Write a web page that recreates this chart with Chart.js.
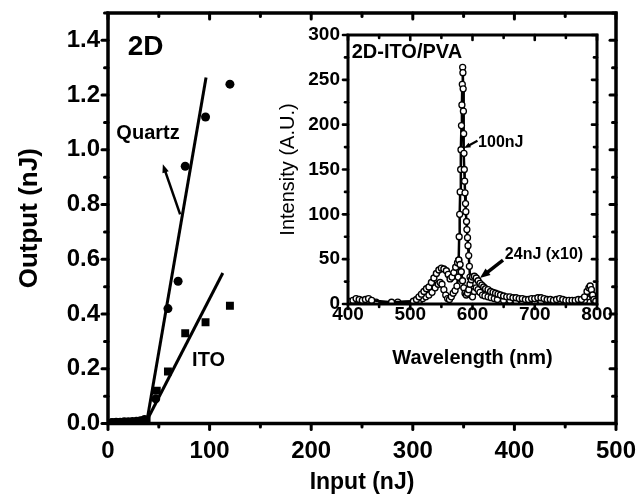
<!DOCTYPE html>
<html>
<head>
<meta charset="utf-8">
<script src="https://cdn.jsdelivr.net/npm/chart.js@4.4.1/dist/chart.umd.min.js"></script>
<style>
  html, body { margin: 0; padding: 0; background: #fff; }
  #wrap { position: relative; width: 639px; height: 496px; overflow: hidden; }
  #main { position: absolute; left: 0; top: 0; }
  #inset { position: absolute; left: 262px; top: 22px; }
</style>
</head>
<body>
<div id="wrap">
  <canvas id="main" width="639" height="496"></canvas>
  <canvas id="inset" width="356" height="350"></canvas>
</div>
<script>
// ---- main plot: output vs input (nJ) ----
const quartzIn  = [4, 8, 12, 16, 20, 24, 28, 32, 36, 47, 59, 69, 76, 96, 120];
const quartzOut = [0.004, 0.005, 0.005, 0.006, 0.006, 0.007, 0.008, 0.010, 0.015, 0.09, 0.42, 0.52, 0.94, 1.12, 1.24];
const itoIn  = [6, 10, 14, 18, 22, 26, 30, 34, 38, 48, 59, 76, 96, 120];
const itoOut = [0.004, 0.004, 0.005, 0.005, 0.006, 0.006, 0.007, 0.008, 0.012, 0.12, 0.19, 0.33, 0.37, 0.43];

// linear fits above threshold
const quartzFitIn  = [38.5, 96.5];
const quartzFitOut = [0.013, 1.264];
const itoFitIn  = [38.5, 113];
const itoFitOut = [0.013, 0.55];

// ---- inset: emission spectra ----
const wl100 = [400, 410, 420, 430, 445, 480, 510,
  515, 520, 525, 530, 535, 540, 545,
  548, 551, 554, 557, 560, 563, 566, 569, 572, 575, 577,
  577.8, 578.6, 579.4, 580.2, 581, 581.5, 582.3, 583, 583.6, 584.2,
  584.6, 585, 585.4, 585.8, 586.3, 586.8, 587.4, 588, 588.8, 589.3,
  590.4, 591, 592, 592.8, 593.9, 595, 596, 597, 598,
  600, 603, 606, 609, 612, 616, 620, 625, 630, 635, 640,
  650, 660, 670, 680, 690, 700, 710, 720, 730, 740, 750, 760, 770, 780,
  785, 788, 790, 792, 795, 798];
const int100 = [2, 3, 4, 3, 2, 2, 3,
  4, 6, 8, 10, 13, 18, 22,
  24, 22, 16, 10, 6, 5, 8, 12, 15, 20, 30,
  49, 75, 100, 125, 150, 172, 199, 222, 245, 264,
  258, 240, 215, 190, 168, 150, 137, 124, 112, 103,
  92, 83, 74, 65, 54, 42, 30, 18, 10,
  8, 14, 18, 16, 13, 10, 9, 8, 7, 6, 5,
  4, 4, 3, 3, 3, 3, 3, 3, 3, 3, 3, 3, 3, 4,
  8, 12, 14, 10, 4, 2];

const wl24 = [400, 408, 413, 418, 423, 428, 433, 438, 470, 505,
  510, 514, 518, 522, 526, 530, 534, 538, 542, 546, 550, 554, 558,
  561, 564, 567, 570, 573, 576, 578, 580, 582, 584, 586, 588, 590, 592, 594, 596, 598, 600,
  603, 606, 609, 612, 615, 618, 621,
  625, 629, 633, 637, 641, 645,
  650, 655, 660, 665, 670, 675, 680, 685, 690, 695, 700, 705, 710, 715, 720, 725, 730, 735, 740, 745, 750, 755, 760, 765, 770, 775, 780,
  784, 787, 789, 791, 793, 795, 798];
const int24 = [3, 4, 6, 5, 4, 5, 6, 4, 2, 3,
  5, 8, 11, 14, 17, 19, 24, 29, 34, 38, 40, 39, 37,
  33, 28, 30, 35, 41, 46, 49, 44, 36, 26, 18, 12, 10, 12, 16, 22, 27, 30,
  31, 29, 26, 23, 21, 19, 17,
  16, 14, 13, 12, 11, 10,
  9, 8, 8, 7, 7, 6, 6, 5, 5, 6, 6, 7, 7, 6, 5, 5, 4, 5, 6, 5, 4, 4, 4, 4, 5, 5, 8,
  14, 18, 20, 16, 10, 5, 3];

// annotations (data coordinates)
const mainText  = ['2D', 'Quartz', 'ITO'];
const mainTextX = [37, 39.4, 99];
const mainTextY = [1.374, 1.061, 0.232];
const mainArrowFrom = [71, 0.764];
const mainArrowTo   = [54, 0.947];

const insetText  = ['2D-ITO/PVA', '100nJ', '24nJ (x10)'];
const insetTextX = [406, 609, 652];
const insetTextY = [280, 180, 55];
const insetArrowFrom = [[608, 182], [649, 49]];
const insetArrowTo   = [[586.4, 174], [612, 29]];

const FONT = '"Liberation Sans", Arial, Helvetica, sans-serif';
Chart.defaults.font.family = FONT;
Chart.defaults.color = '#000';

const pts = (xs, ys) => xs.map((x, i) => ({ x: x, y: ys[i] }));

function line(ctx, x1, y1, x2, y2) {
  ctx.beginPath(); ctx.moveTo(x1, y1); ctx.lineTo(x2, y2); ctx.stroke();
}

function arrow(ctx, x1, y1, x2, y2, w, head) {
  const a = Math.atan2(y2 - y1, x2 - x1);
  ctx.save();
  ctx.strokeStyle = '#000'; ctx.fillStyle = '#000'; ctx.lineWidth = w;
  line(ctx, x1, y1, x2 - Math.cos(a) * head * 0.7, y2 - Math.sin(a) * head * 0.7);
  ctx.beginPath();
  ctx.moveTo(x2, y2);
  ctx.lineTo(x2 - head * Math.cos(a - 0.38), y2 - head * Math.sin(a - 0.38));
  ctx.lineTo(x2 - head * Math.cos(a + 0.38), y2 - head * Math.sin(a + 0.38));
  ctx.closePath(); ctx.fill();
  ctx.restore();
}

const isMajor = (v, step) => Math.abs(v / step - Math.round(v / step)) < 1e-6;

// box frame with ticks out on bottom/left and in on top/right
function drawFrame(chart, f) {
  const { ctx, chartArea: a, scales: { x, y } } = chart;
  ctx.save();
  ctx.strokeStyle = '#000';
  ctx.lineCap = 'round';
  ctx.lineWidth = f.tickWidth;
  x.ticks.forEach(t => {
    const px = x.getPixelForValue(t.value);
    const len = isMajor(t.value, f.xMajor) ? f.major : f.minor;
    line(ctx, px, a.bottom, px, a.bottom + len);
    line(ctx, px, a.top, px, a.top + len);
  });
  y.ticks.forEach(t => {
    const py = y.getPixelForValue(t.value);
    const len = isMajor(t.value, f.yMajor) ? f.major : f.minor;
    line(ctx, a.left, py, a.left - len, py);
    line(ctx, a.right, py, a.right - len, py);
  });
  ctx.lineCap = 'square';
  ctx.lineWidth = f.frameWidth;
  ctx.strokeRect(a.left, a.top, a.right - a.left, a.bottom - a.top);
  ctx.restore();
}

function drawTexts(chart, texts, xs, ys, fonts, align) {
  const { ctx, scales: { x, y } } = chart;
  ctx.save();
  ctx.fillStyle = '#000';
  ctx.textBaseline = 'middle';
  texts.forEach((s, i) => {
    ctx.font = fonts[i];
    ctx.textAlign = align[i];
    ctx.fillText(s, x.getPixelForValue(xs[i]), y.getPixelForValue(ys[i]));
  });
  ctx.restore();
}

function fixSize(w, h) {
  return (scale) => {
    if (w !== null) scale.width = w;
    if (h !== null) scale.height = h;
    scale.paddingTop = 0; scale.paddingBottom = 0;
    scale.paddingLeft = 0; scale.paddingRight = 0;
  };
}

// ---------- main chart ----------
new Chart(document.getElementById('main'), {
  type: 'scatter',
  data: {
    datasets: [
      { label: 'Quartz fit', data: pts(quartzFitIn, quartzFitOut), showLine: true,
        borderColor: '#000', borderWidth: 3, pointRadius: 0 },
      { label: 'ITO fit', data: pts(itoFitIn, itoFitOut), showLine: true,
        borderColor: '#000', borderWidth: 3, pointRadius: 0 },
      { label: 'Quartz', data: pts(quartzIn, quartzOut), pointStyle: 'circle',
        pointRadius: 4.5, backgroundColor: '#000', borderColor: '#000', borderWidth: 0 },
      { label: 'ITO', data: pts(itoIn, itoOut), pointStyle: 'rect',
        pointRadius: 5.6, backgroundColor: '#000', borderColor: '#000', borderWidth: 0 }
    ]
  },
  options: {
    responsive: false,
    devicePixelRatio: 1,
    animation: false,
    layout: { padding: { left: 0, right: 23, top: 13, bottom: 0 } },
    plugins: { legend: { display: false }, tooltip: { enabled: false } },
    scales: {
      x: {
        type: 'linear', min: 0, max: 500,
        border: { display: false },
        grid: { display: false, drawTicks: true, tickLength: 6 },
        ticks: {
          stepSize: 50, autoSkip: false, maxRotation: 0, padding: 7.5,
          font: { size: 24, weight: 'bold' },
          callback: (v) => (isMajor(v, 100) ? String(v) : '')
        },
        title: { display: true, text: 'Input (nJ)', font: { size: 23, weight: 'bold' },
          padding: { top: 0, bottom: 0 } },
        afterFit: fixSize(null, 72.5)
      },
      y: {
        type: 'linear', min: 0, max: 1.5,
        border: { display: false },
        grid: { display: false, drawTicks: true, tickLength: 6 },
        ticks: {
          stepSize: 0.1, autoSkip: false, padding: 2,
          font: { size: 24, weight: 'bold' },
          callback: (v) => (isMajor(v, 0.2) ? v.toFixed(1) : '')
        },
        title: { display: true, text: 'Output (nJ)', font: { size: 26, weight: 'bold' },
          padding: { top: 14, bottom: 0 } },
        afterFit: fixSize(108, null)
      }
    }
  },
  plugins: [{
    id: 'mainDecor',
    afterDraw(chart) {
      drawFrame(chart, { tickWidth: 3, frameWidth: 3.5, major: 6, minor: 3.5, xMajor: 100, yMajor: 0.2 });
      const { ctx, scales: { x, y } } = chart;
      arrow(ctx, x.getPixelForValue(mainArrowFrom[0]), y.getPixelForValue(mainArrowFrom[1]),
        x.getPixelForValue(mainArrowTo[0]), y.getPixelForValue(mainArrowTo[1]), 2.5, 9);
      drawTexts(chart, mainText, mainTextX, mainTextY,
        ['bold 28px ' + FONT, 'bold 20px ' + FONT, 'bold 20px ' + FONT],
        ['center', 'center', 'center']);
    }
  }]
});

// ---------- inset chart ----------
new Chart(document.getElementById('inset'), {
  type: 'scatter',
  data: {
    datasets: [
      { label: '24nJ (x10)', data: pts(wl24, int24), showLine: true,
        borderColor: '#000', borderWidth: 2.4, pointRadius: 3,
        pointBackgroundColor: '#fff', pointBorderColor: '#000', pointBorderWidth: 1.4 },
      { label: '100nJ', data: pts(wl100, int100), showLine: true,
        borderColor: '#000', borderWidth: 2.5, pointRadius: 3,
        pointBackgroundColor: '#fff', pointBorderColor: '#000', pointBorderWidth: 1.3 }
    ]
  },
  options: {
    responsive: false,
    devicePixelRatio: 1,
    animation: false,
    layout: { padding: { left: 0, right: 21, top: 13, bottom: 0 } },
    plugins: { legend: { display: false }, tooltip: { enabled: false } },
    scales: {
      x: {
        type: 'linear', min: 400, max: 800,
        border: { display: false },
        grid: { display: false, drawTicks: true, tickLength: 5 },
        ticks: {
          stepSize: 50, autoSkip: false, maxRotation: 0, padding: -6,
          font: { size: 19, weight: 'bold' },
          callback: (v) => (isMajor(v, 100) ? String(v) : '')
        },
        title: { display: true, text: 'Wavelength (nm)', font: { size: 20, weight: 'bold' },
          padding: { top: 0, bottom: 2 } },
        afterFit: fixSize(null, 68)
      },
      y: {
        type: 'linear', min: 0, max: 300,
        border: { display: false },
        grid: { display: false, drawTicks: true, tickLength: 5 },
        ticks: {
          stepSize: 25, autoSkip: false, padding: 3,
          font: { size: 19, weight: 'bold' },
          callback: (v) => (isMajor(v, 50) ? String(v) : '')
        },
        title: { display: true, text: 'Intensity (A.U.)', font: { size: 20, weight: 'normal' },
          padding: { top: 14, bottom: 0 } },
        afterFit: fixSize(86, null)
      }
    }
  },
  plugins: [{
    id: 'insetDecor',
    afterDraw(chart) {
      drawFrame(chart, { tickWidth: 2.6, frameWidth: 3, major: 5, minor: 3, xMajor: 100, yMajor: 50 });
      const { ctx, scales: { x, y } } = chart;
      arrow(ctx, x.getPixelForValue(insetArrowFrom[0][0]), y.getPixelForValue(insetArrowFrom[0][1]),
        x.getPixelForValue(insetArrowTo[0][0]), y.getPixelForValue(insetArrowTo[0][1]), 2.2, 7);
      arrow(ctx, x.getPixelForValue(insetArrowFrom[1][0]), y.getPixelForValue(insetArrowFrom[1][1]),
        x.getPixelForValue(insetArrowTo[1][0]), y.getPixelForValue(insetArrowTo[1][1]), 3.5, 11);
      drawTexts(chart, insetText, insetTextX, insetTextY,
        ['bold 20px ' + FONT, 'bold 16px ' + FONT, 'bold 16px ' + FONT],
        ['left', 'left', 'left']);
    }
  }]
});
</script>
</body>
</html>
